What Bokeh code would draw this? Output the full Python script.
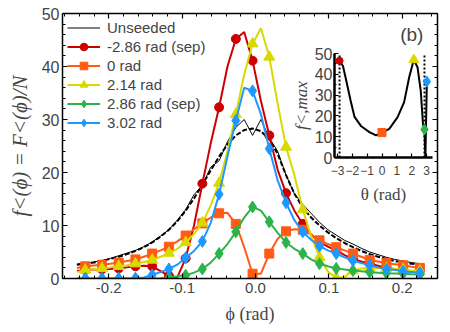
import numpy as np
from bokeh.plotting import figure
from bokeh.models import (FixedTicker, LinearAxis, Legend, LegendItem, Label,
                          CustomJSTickFormatter, PrintfTickFormatter)
from bokeh.embed import file_html
from bokeh.resources import INLINE

# ---------------- data (main panel) ----------------
phi = [-0.2434, -0.2320, -0.2206, -0.2092, -0.1978, -0.1864, -0.1750, -0.1636, -0.1522, -0.1408,
       -0.1294, -0.1180, -0.1066, -0.0952, -0.0838, -0.0724, -0.0610, -0.0496, -0.0382, -0.0268,
       -0.0154, -0.0040, 0.0074, 0.0188, 0.0302, 0.0416, 0.0530, 0.0644, 0.0758, 0.0872,
       0.0986, 0.1100, 0.1214, 0.1328, 0.1442, 0.1556, 0.1670, 0.1784, 0.1898, 0.2012,
       0.2126, 0.2240]

unseeded = [2.7, 2.9, 3.1, 3.4, 3.8, 4.3, 4.8, 5.3, 6.0, 6.9,
            8.0, 9.2, 11.0, 13.0, 15.8, 17.6, 21.0, 22.2, 25.8, 28.5,
            30.0, 27.0, 30.0, 26.5, 24.0, 19.5, 16.0, 14.0, 12.3, 10.6,
            9.2, 8.2, 7.2, 6.5, 5.7, 5.0, 4.5, 4.0, 3.6, 3.3,
            3.0, 2.8]
unseeded_fit = [2.6, 2.8, 3.0, 3.3, 3.7, 4.1, 4.6, 5.2, 5.9, 6.8,
                7.9, 9.2, 10.8, 12.8, 15.1, 17.7, 20.4, 23.0, 25.3, 27.0,
                28.0, 28.3, 27.8, 26.3, 23.5, 19.5, 16.0, 13.4, 11.5, 10.0,
                8.7, 7.6, 6.7, 5.9, 5.2, 4.6, 4.1, 3.7, 3.3, 3.0,
                2.8, 2.6]
red = [1.4, 1.6, 1.7, 1.75, 1.8, 1.9, 2.1, 2.3, 2.4, 2.3,
       1.4, 0.5, 0.2, 3.8, 10.0, 17.9, 25.5, 32.3, 40.0, 45.2,
       46.5, 41.1, 33.5, 27.0, 20.5, 16.1, 12.8, 10.3, 8.3, 6.9,
       6.0, 5.3, 4.4, 3.7, 3.2, 2.8, 2.4, 2.0, 1.8, 1.6,
       1.3, 1.1]
orange = [2.0, 2.3, 2.45, 2.6, 2.8, 3.0, 3.3, 3.6, 4.1, 4.7,
          5.3, 6.0, 7.0, 8.1, 9.3, 10.4, 11.5, 12.3, 12.4, 10.3,
          5.9, 0.9, 0.9, 4.7, 7.5, 8.9, 9.3, 9.2, 8.3, 7.2,
          6.5, 5.9, 5.3, 4.7, 4.1, 3.5, 3.2, 2.9, 2.7, 2.5,
          2.2, 2.0]
yellow = [1.2, 1.6, 1.75, 1.9, 2.1, 2.3, 2.5, 2.8, 3.1, 3.5,
          4.1, 4.8, 5.6, 6.8, 8.4, 10.5, 13.8, 18.0, 24.0, 31.0,
          38.5, 44.3, 47.2, 41.8, 33.0, 24.8, 19.5, 13.0, 8.0, 4.0,
          1.3, 0.1, 0.3, 1.5, 1.9, 2.0, 2.0, 1.9, 1.8, 1.7,
          1.5, 1.4]
green = [0.0, 0.0, 0.0, 0.0, 0.0, 0.0, 0.0, 0.0, 0.0, 0.0,
         0.05, 0.2, 0.4, 0.6, 1.1, 1.8, 3.0, 4.7, 6.5, 8.8,
         11.5, 13.5, 12.8, 10.7, 8.6, 6.8, 5.6, 4.7, 3.6, 2.8,
         2.3, 1.9, 1.7, 1.5, 1.35, 1.2, 1.1, 1.0, 0.95, 0.9,
         0.8, 0.75]
blue = [0.0, 0.0, 0.0, 0.0, 0.0, 0.0, 0.0, 0.05, 0.2, 0.7,
        1.2, 1.8, 2.6, 3.9, 5.2, 7.0, 10.5, 15.9, 23.0, 29.8,
        36.0, 35.4, 31.0, 24.5, 18.5, 14.3, 11.0, 8.8, 7.3, 6.1,
        5.3, 4.7, 4.0, 3.4, 2.9, 2.5, 2.1, 1.8, 1.6, 1.4,
        1.2, 1.1]

series_labels = ["-2.86 rad (sep)", "0 rad", "2.14 rad", "2.86 rad (sep)", "3.02 rad"]

xtick_vals = [-0.2, -0.1, 0.0, 0.1, 0.2]
ytick_vals = [0, 10, 20, 30, 40, 50]

# ---------------- data (inset b) ----------------
theta = [-2.86, -2.63, -2.41, -2.12, -1.85, -1.4, -0.85, -0.4, 0.0, 0.49,
         1.05, 1.49, 1.83, 2.14, 2.39, 2.61, 2.76, 2.86, 2.92, 3.02]
fmax = [46.5, 44.0, 37.0, 27.5, 19.5, 15.0, 12.2, 10.6, 12.0, 13.8,
        19.4, 26.6, 38.6, 47.0, 43.4, 32.0, 16.0, 13.5, 0.0, 36.5]
theta_marks = [-2.86, 0.0, 2.14, 2.86, 3.02]
fmax_marks = [46.5, 12.0, 47.0, 13.5, 36.5]
theta_sep = [-2.86, 2.86]
inset_xticks = [-3, -2, -1, 0, 1, 2, 3]
inset_yticks = [0, 10, 20, 30, 40, 50]

# ---------------- styles ----------------
COLORS = ["#CC0000", "#FF5B14", "#D9D900", "#2BB44A", "#1E98FF"]
MARKERS = ["circle", "square", "triangle", "diamond", "diamond"]
SIZES = [9, 9, 11, 12, 12]
SANS = "Liberation Sans"
SERIF = "Liberation Serif"


def style_axis(ax, size="15px", tick_in=5, minor_in=3, width=1.5, standoff=4):
    ax.axis_line_width = width
    ax.major_tick_in = tick_in
    ax.major_tick_out = 0
    ax.minor_tick_in = minor_in
    ax.minor_tick_out = 0
    ax.major_tick_line_width = 1.2
    ax.minor_tick_line_width = 1
    ax.major_label_text_font = SANS
    ax.major_label_text_font_size = size
    ax.major_label_standoff = standoff


# ---------------- main figure (frame: x 62..437, y 13..278) ----------------
p_main = figure(width=450, height=332, x_range=(-0.263, 0.248), y_range=(0, 50),
                output_backend="svg", toolbar_location=None,
                min_border_left=62, min_border_right=13, min_border_top=13,
                min_border_bottom=54)
p_main.grid.visible = False
p_main.outline_line_color = None

xminor = [round(v, 2) for v in np.arange(-0.26, 0.25, 0.02)]
yminor = list(np.arange(0, 51, 2))

p_main.xaxis.ticker = FixedTicker(ticks=xtick_vals, minor_ticks=xminor)
p_main.xaxis.formatter = PrintfTickFormatter(format="%.1f")
p_main.yaxis.ticker = FixedTicker(ticks=ytick_vals, minor_ticks=yminor)
style_axis(p_main.xaxis[0], size="15px", standoff=4)
style_axis(p_main.yaxis[0], size="16px", standoff=3)
p_main.xaxis.axis_label = "\u03d5 (rad)"
p_main.xaxis.axis_label_text_font = SERIF
p_main.xaxis.axis_label_text_font_style = "normal"
p_main.xaxis.axis_label_text_font_size = "18px"
p_main.xaxis.axis_label_standoff = 8
p_main.yaxis.axis_label = "f<(\u03d5) = F<(\u03d5)/N"
p_main.yaxis.axis_label_text_font = SERIF
p_main.yaxis.axis_label_text_font_style = "italic"
p_main.yaxis.axis_label_text_font_size = "21px"
p_main.yaxis.axis_label_standoff = 7

blank = CustomJSTickFormatter(code="return ''")
top_ax = LinearAxis(ticker=FixedTicker(ticks=xtick_vals, minor_ticks=xminor), formatter=blank)
right_ax = LinearAxis(ticker=FixedTicker(ticks=ytick_vals, minor_ticks=yminor), formatter=blank)
for ax in (top_ax, right_ax):
    style_axis(ax, size="0px", standoff=0)
p_main.add_layout(top_ax, "above")
p_main.add_layout(right_ax, "right")

r_fit = p_main.line(phi, unseeded_fit, color="black", line_width=2, line_dash="5 2")
r_un = p_main.line(phi, unseeded, color="black", line_width=1)
items = [LegendItem(label="Unseeded", renderers=[r_un])]
for lab, vals, col, mk, sz in zip(series_labels, [red, orange, yellow, green, blue],
                                  COLORS, MARKERS, SIZES):
    rl = p_main.line(phi, vals, color=col, line_width=2)
    rs = p_main.scatter(phi[1::2], vals[1::2], marker=mk, size=sz, color=col)
    items.append(LegendItem(label=lab, renderers=[rl, rs]))

legend = Legend(items=items, location="top_left")
legend.background_fill_alpha = 0
legend.border_line_color = None
legend.label_text_font = SANS
legend.label_text_font_size = "15px"
legend.glyph_width = 33
legend.glyph_height = 19
legend.label_height = 19
legend.label_standoff = 7
legend.spacing = 0
legend.padding = 3
legend.margin = 5
p_main.add_layout(legend)

p_main.add_layout(Label(x=0.213, y=46, text="(b)", text_font=SANS, text_font_size="19px",
                        text_align="center", text_baseline="middle"))

# ---------------- inset (frame: x 334..432, y 53..157) ----------------
p_in = figure(width=184, height=174, x_range=(-3.2, 3.4), y_range=(0, 50),
              output_backend="svg", toolbar_location=None,
              min_border_left=80, min_border_right=6, min_border_top=10, min_border_bottom=60,
              background_fill_alpha=0, border_fill_alpha=0)
p_in.outline_line_color = None
p_in.grid.visible = False
p_in.xaxis.ticker = FixedTicker(ticks=inset_xticks)
p_in.yaxis.ticker = FixedTicker(ticks=inset_yticks, minor_ticks=list(range(0, 51, 5)))
style_axis(p_in.xaxis[0], size="12px", tick_in=4, width=2.5, standoff=8)
style_axis(p_in.yaxis[0], size="16px", tick_in=4, minor_in=2, width=2.5, standoff=2)
p_in.xaxis.axis_label = "\u03b8 (rad)"
p_in.xaxis.axis_label_text_font = SERIF
p_in.xaxis.axis_label_text_font_style = "normal"
p_in.xaxis.axis_label_text_font_size = "17px"
p_in.xaxis.axis_label_standoff = 7
p_in.yaxis.axis_label = "f<,max"
p_in.yaxis.axis_label_text_font = SERIF
p_in.yaxis.axis_label_text_font_style = "italic"
p_in.yaxis.axis_label_text_font_size = "17px"
p_in.yaxis.axis_label_standoff = 1

p_in.segment(x0=theta_sep, y0=[0, 0], x1=theta_sep, y1=[50, 50], color="black",
             line_width=2, line_dash="2 2")
p_in.line(theta, fmax, color="black", line_width=2)
p_in.scatter(theta_marks, fmax_marks, marker=MARKERS, size=[7, 8, 10, 11, 11],
             color=COLORS)

# the inset floats over the main panel
p_in.styles = {"position": "absolute", "left": "254px", "top": "43px"}

p = [p_main, p_in]

open("out.html", "w").write(file_html(p, INLINE))
